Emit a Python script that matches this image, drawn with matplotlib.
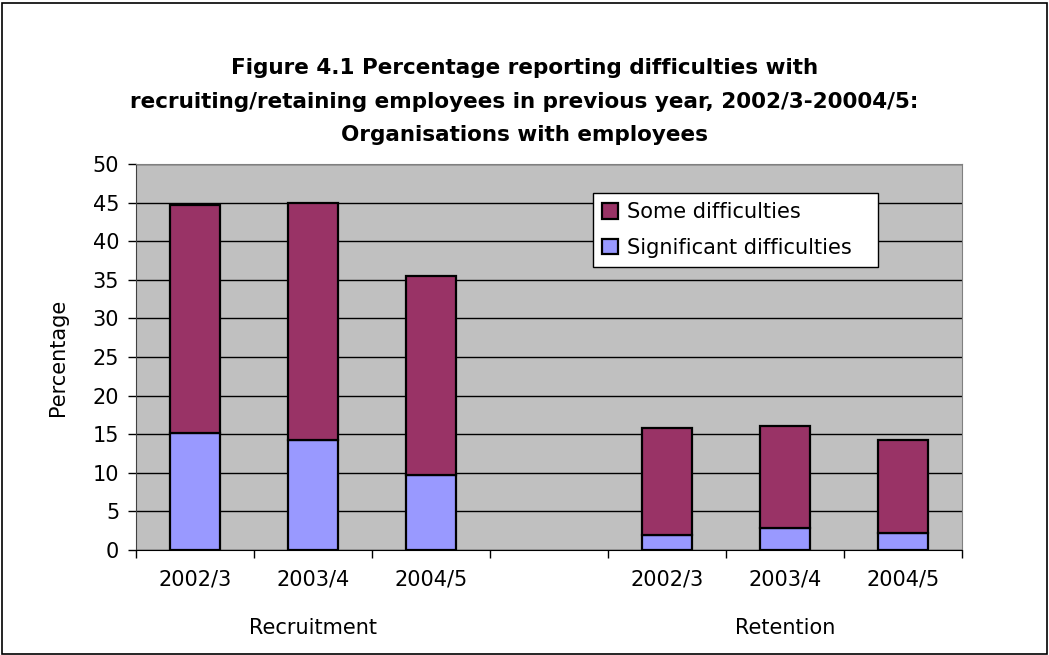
import numpy as np
import matplotlib.pyplot as plt
from matplotlib.patches import Rectangle

plt.rcParams['font.family'] = ['DejaVu Sans']

godine = ["2002/3", "2003/4", "2004/5", "", "2002/3", "2003/4", "2004/5"]
grupe = ["Recruitment", "Retention"]
znacajne = [15.2, 14.3, 9.7, 0, 2.0, 2.8, 2.2]
neke = [29.5, 30.6, 25.8, 0, 13.8, 13.3, 12.1]

ljubicasta = "#993366"
lavanda = "#9999FF"

fig = plt.figure(figsize=(10.49, 6.55), dpi=100)
ax = fig.add_axes([0.1296, 0.1603, 0.7874, 0.5893])
ax.set_facecolor("#C0C0C0")

x = np.arange(len(godine))
prazno = np.array([g == "" for g in godine])
xb = x[~prazno]
zn = np.array(znacajne)[~prazno]
ne = np.array(neke)[~prazno]

ax.bar(xb, zn, width=0.42, color=lavanda, edgecolor="black", linewidth=1.6,
       label="Significant difficulties", zorder=3)
ax.bar(xb, ne, width=0.42, bottom=zn, color=ljubicasta, edgecolor="black",
       linewidth=1.6, label="Some difficulties", zorder=3)

ax.set_ylim(0, 50)
ax.set_xlim(-0.5, len(godine) - 0.5)
ax.set_yticks(np.arange(0, 51, 5))
ax.yaxis.grid(True, color="black", linewidth=1)
ax.set_axisbelow(True)
ax.tick_params(axis="y", labelsize=15, length=6, direction="out", width=1, pad=6)

ax.set_xticks(x)
ax.set_xticklabels(godine, fontsize=15)
ax.set_xticks(np.arange(-0.5, len(godine), 1), minor=True)
ax.tick_params(axis="x", which="major", length=0, pad=14)
ax.tick_params(axis="x", which="minor", length=6, width=1)

for s in ["top", "right"]:
    ax.spines[s].set_color("#808080")
ax.spines["left"].set_color("#404040")
ax.spines["bottom"].set_color("black")

ax.set_ylabel("Percentage", fontsize=15, labelpad=18)

ax.text(1, -0.202, grupe[0], transform=ax.get_xaxis_transform(),
        ha="center", va="center", fontsize=15)
ax.text(5, -0.202, grupe[1], transform=ax.get_xaxis_transform(),
        ha="center", va="center", fontsize=15)

fig.text(0.5, 0.845,
         "Figure 4.1 Percentage reporting difficulties with\n"
         "recruiting/retaining employees in previous year, 2002/3-20004/5:\n"
         "Organisations with employees",
         ha="center", va="center", fontsize=15.5, fontweight="bold",
         linespacing=1.85)

h, l = ax.get_legend_handles_labels()
leg = ax.legend(h[::-1], l[::-1], loc="upper left", mode="expand",
                bbox_to_anchor=(0.553, 0.736, 0.345, 0.189), fontsize=15,
                frameon=True, fancybox=False, edgecolor="black",
                handlelength=0.75, handleheight=0.75, borderpad=0.45,
                labelspacing=0.75, handletextpad=0.45, borderaxespad=0)
leg.get_frame().set_linewidth(1)
leg.get_frame().set_alpha(1)

fig.patches.append(Rectangle((0.002, 0.002), 0.996, 0.994,
                             transform=fig.transFigure, fill=False,
                             edgecolor="black", linewidth=1.2))

fig.savefig("out.png", dpi=100)
